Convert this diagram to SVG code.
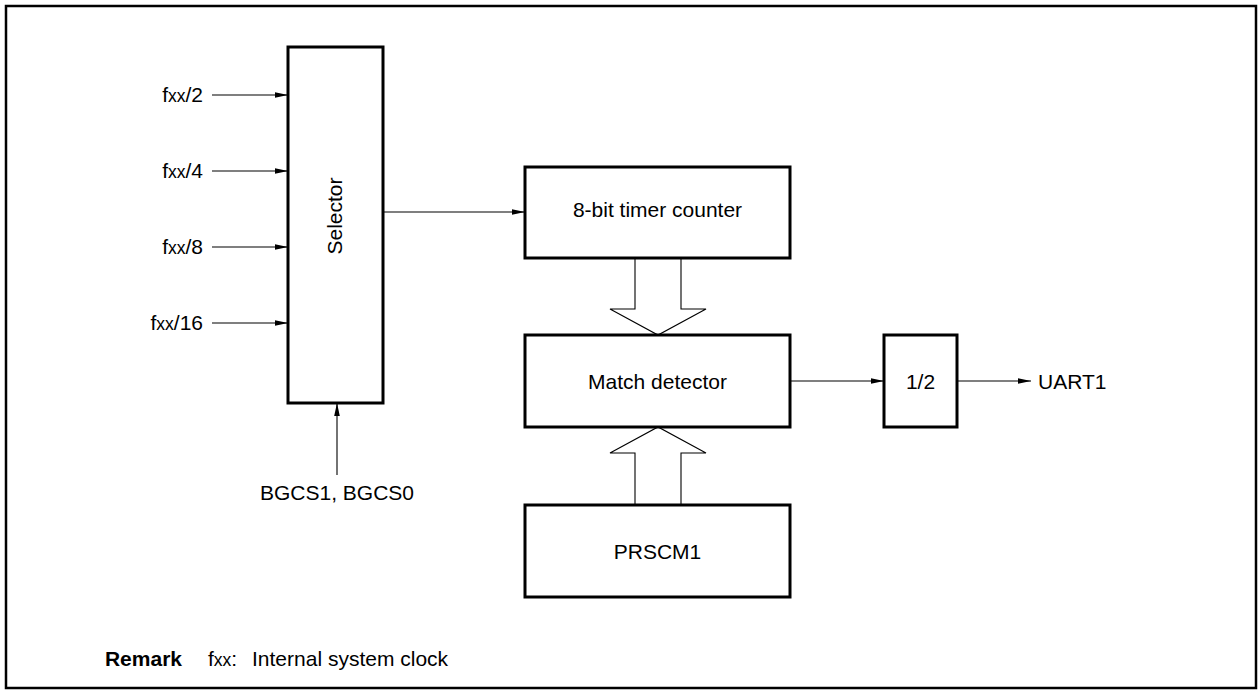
<svg xmlns="http://www.w3.org/2000/svg" width="1259" height="693" viewBox="0 0 1259 693">
<defs>
<marker id="ah" markerWidth="14" markerHeight="8" refX="13" refY="4" orient="auto" markerUnits="userSpaceOnUse">
<path d="M0,1.2 L13,4 L0,6.8 Z" fill="#000"/>
</marker>
<style>
.box{fill:#fff;stroke:#000;stroke-width:3}
.ln{fill:none;stroke:#000;stroke-width:1.1}
.hol{fill:#fff;stroke:#000;stroke-width:1.1}
text{font-family:"Liberation Sans",Arial,sans-serif;font-size:21px;fill:#000}
.sm{font-size:17.5px}
</style>
</defs>
<rect width="1259" height="693" fill="#fff"/>
<rect x="6" y="6" width="1250" height="682" fill="none" stroke="#000" stroke-width="2.5"/>

<g id="connectors">
<line class="ln" x1="212" y1="95" x2="288" y2="95" marker-end="url(#ah)"/>
<line class="ln" x1="212" y1="171" x2="288" y2="171" marker-end="url(#ah)"/>
<line class="ln" x1="212" y1="247" x2="288" y2="247" marker-end="url(#ah)"/>
<line class="ln" x1="212" y1="323" x2="288" y2="323" marker-end="url(#ah)"/>
<line class="ln" x1="383" y1="212" x2="525" y2="212" marker-end="url(#ah)"/>
<line class="ln" x1="337" y1="475" x2="337" y2="403" marker-end="url(#ah)"/>
<line class="ln" x1="790" y1="381" x2="884" y2="381" marker-end="url(#ah)"/>
<line class="ln" x1="957" y1="381" x2="1031" y2="381" marker-end="url(#ah)"/>
<path class="hol" d="M635,258 L635,309 L610,309 L658,335 L706,309 L681,309 L681,258"/>
<path class="hol" d="M635,505 L635,453 L610,453 L658,427 L706,453 L681,453 L681,505"/>
</g>

<g id="inputs">
<text x="203" y="102" text-anchor="end">f<tspan class="sm">xx</tspan>/2</text>
<text x="203" y="178" text-anchor="end">f<tspan class="sm">xx</tspan>/4</text>
<text x="203" y="254" text-anchor="end">f<tspan class="sm">xx</tspan>/8</text>
<text x="203" y="330" text-anchor="end">f<tspan class="sm">xx</tspan>/16</text>
</g>

<g id="selector">
<rect class="box" x="288" y="47" width="95" height="356"/>
<text transform="translate(342,216) rotate(-90)" text-anchor="middle">Selector</text>
</g>

<g id="bgcs">
<text x="337" y="500" text-anchor="middle">BGCS1, BGCS0</text>
</g>

<g id="counter">
<rect class="box" x="525" y="167" width="265" height="91"/>
<text x="657.5" y="217" text-anchor="middle">8-bit timer counter</text>
</g>

<g id="match">
<rect class="box" x="525" y="335" width="265" height="92"/>
<text x="657.5" y="389" text-anchor="middle">Match detector</text>
</g>

<g id="half">
<rect class="box" x="884" y="335" width="73" height="92"/>
<text x="920.5" y="389" text-anchor="middle">1/2</text>
</g>

<g id="uart">
<text x="1038" y="389">UART1</text>
</g>

<g id="prscm">
<rect class="box" x="525" y="505" width="265" height="92"/>
<text x="657.5" y="559" text-anchor="middle">PRSCM1</text>
</g>

<g id="remark">
<text x="182" y="666" font-weight="bold" text-anchor="end">Remark</text>
<text x="208" y="666">f<tspan class="sm">xx</tspan>:<tspan x="252">Internal system clock</tspan></text>
</g>
</svg>
